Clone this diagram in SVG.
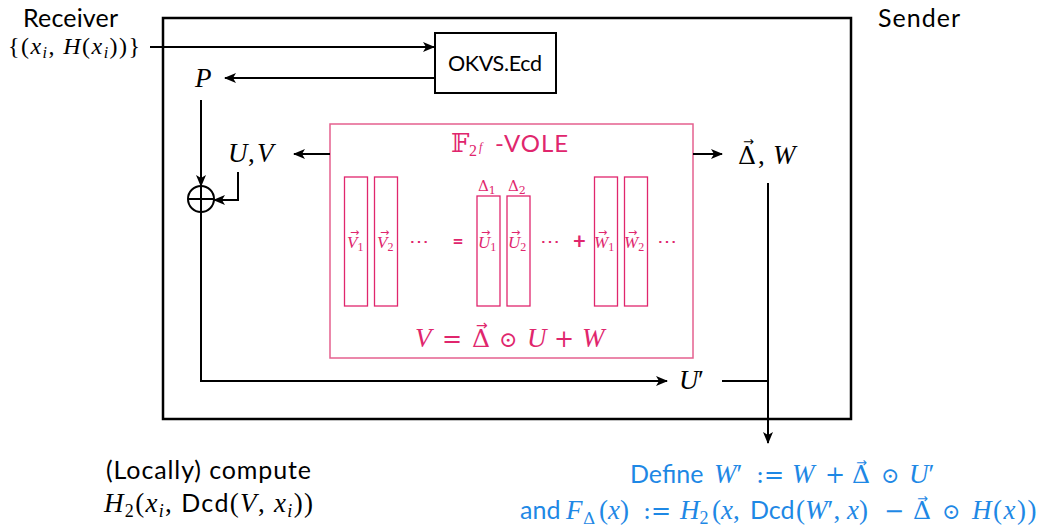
<svg xmlns="http://www.w3.org/2000/svg" width="1046" height="526" viewBox="0 0 1046 526">
<style>
.sans{font-family:Lato,"Open Sans","DejaVu Sans",sans-serif;font-style:normal;}
.m{font-family:"Liberation Serif","DejaVu Serif",serif;font-style:italic;}
.r{font-family:"Liberation Serif","DejaVu Serif",serif;font-style:normal;}
.op{font-family:"DejaVu Serif","Liberation Serif",serif;font-style:normal;}
.vec{font-family:"DejaVu Sans",sans-serif;font-style:normal;}
.blk{fill:#000;}
.pk{fill:#E0266D;}
.bl{fill:#1E88E5;}
.ln{fill:none;stroke:#000;stroke-width:2;}
.bar{fill:none;stroke:#E0266D;stroke-width:1.3;}
</style>
<defs>
<marker id="ah" markerWidth="12" markerHeight="10" refX="11" refY="5" orient="auto" markerUnits="userSpaceOnUse"><path d="M0,0 L12,5 L0,10 L3,5 z" fill="#000"/></marker>
</defs>
<rect width="1046" height="526" fill="#fff"/>

<g id="sender-box">
<rect x="163" y="18" width="688" height="401" fill="none" stroke="#000" stroke-width="2.5"/>
</g>

<g id="labels-top">
<text class="sans blk" x="23" y="27" font-size="25" textLength="95" lengthAdjust="spacing">Receiver</text>
<text class="sans blk" x="878" y="27" font-size="25" textLength="82" lengthAdjust="spacing">Sender</text>
<text class="r blk" x="8" y="54" font-size="24" textLength="132" lengthAdjust="spacing">{(<tspan class="m">x</tspan><tspan class="m" dy="4" font-size="16">i</tspan><tspan dy="-4">, </tspan><tspan class="m">H</tspan>(<tspan class="m">x</tspan><tspan class="m" dy="4" font-size="16">i</tspan><tspan dy="-4">))}</tspan></text>
</g>

<g id="okvs">
<rect x="435" y="33" width="121" height="60" fill="#fff" stroke="#000" stroke-width="2"/>
<text class="sans blk" x="448" y="71" font-size="21.5" textLength="94" lengthAdjust="spacing">OKVS.Ecd</text>
</g>

<g id="P">
<text class="m blk" x="195" y="87" font-size="27">P</text>
</g>

<g id="UV">
<text class="m blk" y="162" font-size="27"><tspan x="228">U</tspan><tspan class="r" x="248">,</tspan><tspan x="257">V</tspan></text>
</g>

<g id="DW">
<text class="blk" y="164" font-size="27"><tspan class="op" x="738" font-size="25">Δ</tspan><tspan class="r" x="758">,</tspan><tspan class="m" x="773">W</tspan><tspan class="vec" x="743" y="146" font-size="13">→</tspan></text>
</g>

<g id="Uprime">
<text class="m blk" y="389" font-size="27"><tspan x="679">U</tspan><tspan class="r" x="698">′</tspan></text>
</g>

<g id="xor">
<circle cx="201" cy="199" r="13" fill="#fff" stroke="#000" stroke-width="2"/>
<path d="M188,199 H214 M201,186 V212" stroke="#000" stroke-width="2"/>
</g>

<g id="vole">
<rect x="330" y="124" width="363" height="234" fill="#fff" stroke="#E5608F" stroke-width="1.5"/>
<text class="pk" y="152" font-size="26"><tspan class="op" x="451" font-size="26">𝔽</tspan><tspan class="r" x="469" dy="4" font-size="16">2</tspan><tspan class="m" x="479" dy="-5" font-size="12">f</tspan></text>
<text class="sans pk" x="495" y="152" font-size="24" textLength="73" lengthAdjust="spacing">-VOLE</text>
<rect class="bar" x="344.5" y="177" width="23" height="129"/>
<rect class="bar" x="374.5" y="177" width="23" height="129"/>
<rect class="bar" x="477" y="196" width="23" height="110"/>
<rect class="bar" x="507" y="196" width="23" height="110"/>
<rect class="bar" x="594.5" y="177" width="23" height="129"/>
<rect class="bar" x="624.5" y="177" width="23" height="129"/>
<text class="m pk" x="347" y="248" font-size="17">V<tspan class="r" dy="3" font-size="12">1</tspan><tspan class="vec" x="350" y="236" font-size="11">→</tspan></text>
<text class="m pk" x="377" y="248" font-size="17">V<tspan class="r" dy="3" font-size="12">2</tspan><tspan class="vec" x="380" y="236" font-size="11">→</tspan></text>
<text class="m pk" x="478" y="248" font-size="17">U<tspan class="r" dy="3" font-size="12">1</tspan><tspan class="vec" x="481" y="236" font-size="11">→</tspan></text>
<text class="m pk" x="508" y="248" font-size="17">U<tspan class="r" dy="3" font-size="12">2</tspan><tspan class="vec" x="511" y="236" font-size="11">→</tspan></text>
<text class="m pk" x="594" y="248" font-size="17">W<tspan class="r" dy="3" font-size="12">1</tspan><tspan class="vec" x="598" y="236" font-size="11">→</tspan></text>
<text class="m pk" x="624" y="248" font-size="17">W<tspan class="r" dy="3" font-size="12">2</tspan><tspan class="vec" x="628" y="236" font-size="11">→</tspan></text>
<text class="op pk" x="418.5" y="248" font-size="20" text-anchor="middle">⋯</text>
<text class="op pk" x="550" y="248" font-size="20" text-anchor="middle">⋯</text>
<text class="op pk" x="666.5" y="248" font-size="20" text-anchor="middle">⋯</text>
<text class="sans pk" x="458" y="248" font-size="19" font-weight="bold" text-anchor="middle">=</text>
<text class="sans pk" x="579.5" y="249" font-size="22" font-weight="bold" text-anchor="middle">+</text>
<text class="op pk" x="478" y="191" font-size="15">Δ<tspan dy="3" font-size="11">1</tspan></text>
<text class="op pk" x="508" y="191" font-size="15">Δ<tspan dy="3" font-size="11">2</tspan></text>
<text class="pk" y="347" font-size="27"><tspan class="m" x="415">V</tspan><tspan class="op" x="442" font-size="24">=</tspan><tspan class="op" x="472" font-size="25">Δ</tspan><tspan class="op" x="499" font-size="22">⊙</tspan><tspan class="m" x="527">U</tspan><tspan class="op" x="554" font-size="24">+</tspan><tspan class="m" x="582">W</tspan><tspan class="vec" x="476" y="330" font-size="14">→</tspan></text>
</g>

<g id="connectors">
<path class="ln" d="M150,47 H434" marker-end="url(#ah)"/>
<path class="ln" d="M435,78 H225" marker-end="url(#ah)"/>
<path class="ln" d="M201,100 V186" marker-end="url(#ah)"/>
<path class="ln" d="M330,154 H294" marker-end="url(#ah)"/>
<path class="ln" d="M238,172 V200 H214" marker-end="url(#ah)"/>
<path class="ln" d="M201,212 V381 H667" marker-end="url(#ah)"/>
<path class="ln" d="M693,154 H722" marker-end="url(#ah)"/>
<path class="ln" d="M768,183 V443" marker-end="url(#ah)"/>
<path class="ln" d="M722,381 H768"/>
</g>

<g id="receiver-output">
<text class="sans blk" x="106" y="479" font-size="25" textLength="205" lengthAdjust="spacing">(Locally) compute</text>
<text class="m blk" x="104" y="512" font-size="27" textLength="209" lengthAdjust="spacing">H<tspan class="r" dy="5" font-size="18">2</tspan><tspan class="r" dy="-5">(</tspan>x<tspan dy="5" font-size="18">i</tspan><tspan class="r" dy="-5">, </tspan><tspan class="sans" font-size="25">Dcd</tspan><tspan class="r">(</tspan>V<tspan class="r">, </tspan>x<tspan dy="5" font-size="18">i</tspan><tspan class="r" dy="-5">))</tspan></text>
</g>

<g id="sender-output">
<text class="bl" y="483" font-size="27"><tspan class="sans" x="630" font-size="25">Define</tspan><tspan class="m" x="714">W</tspan><tspan class="r">′</tspan><tspan class="op" x="756" font-size="24">:=</tspan><tspan class="m" x="792">W</tspan><tspan class="op" x="825" font-size="24">+</tspan><tspan class="op" x="852" font-size="25">Δ</tspan><tspan class="op" x="881" font-size="22">⊙</tspan><tspan class="m" x="909">U</tspan><tspan class="r">′</tspan><tspan class="vec" x="856" y="467" font-size="13">→</tspan></text>
<text class="bl" y="519" font-size="27"><tspan class="sans" x="520" font-size="25">and</tspan><tspan class="m" x="566">F</tspan><tspan class="op" x="583" dy="5" font-size="17">Δ</tspan><tspan class="r" x="599" dy="-5">(</tspan><tspan class="m">x</tspan><tspan class="r">)</tspan><tspan class="op" x="643" font-size="24">:=</tspan><tspan class="m" x="680">H</tspan><tspan class="r" dy="5" font-size="18">2</tspan><tspan class="r" x="712" dy="-5">(</tspan><tspan class="m">x</tspan><tspan class="r">,</tspan><tspan class="sans" x="750" font-size="25">Dcd</tspan><tspan class="r" x="796">(</tspan><tspan class="m">W</tspan><tspan class="r">′, </tspan><tspan class="m">x</tspan><tspan class="r">)</tspan><tspan class="op" x="884" font-size="24">−</tspan><tspan class="op" x="913" font-size="25">Δ</tspan><tspan class="op" x="942" font-size="22">⊙</tspan><tspan class="m" x="972" letter-spacing="1.5">H</tspan><tspan class="r" letter-spacing="1.5">(</tspan><tspan class="m" letter-spacing="1.5">x</tspan><tspan class="r" letter-spacing="1.5">))</tspan><tspan class="vec" x="917" y="503" font-size="13">→</tspan></text>
</g>
</svg>
